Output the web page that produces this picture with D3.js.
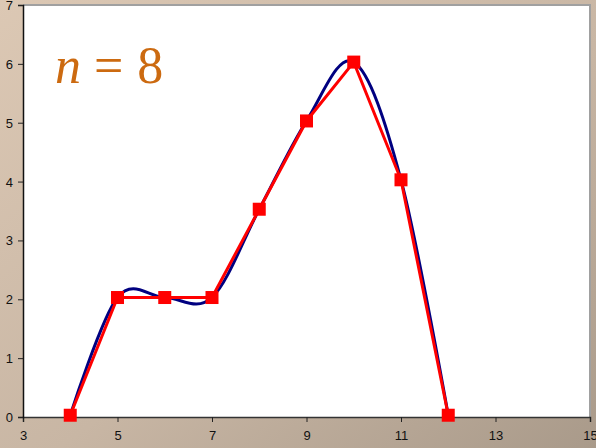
<!DOCTYPE html>
<html>
<head>
<meta charset="utf-8">
<script src="https://cdn.jsdelivr.net/npm/d3@7"></script>
<style>
body{margin:0;padding:0;overflow:hidden}
.tick text{font-family:"Liberation Sans",Arial,sans-serif;font-size:13px;fill:#111}
</style>
</head>
<body>
<svg id="chart" width="596" height="448"></svg>
<script>
// data
let xValues = [4, 5, 6, 7, 8, 9, 10, 11, 12]
let yValues = [0.03, 2.03, 2.03, 2.03, 3.53, 5.03, 6.03, 4.03, 0.03]
let xTicks = [3, 5, 7, 9, 11, 13, 15]
let yTicks = [0, 1, 2, 3, 4, 5, 6, 7]

let points = xValues.map(function (d, i) { return {x: d, y: yValues[i]} })

let svg = d3.select("#chart")

// background gradient
let defs = svg.append("defs")
let grad = defs.append("linearGradient").attr("id", "bg")
    .attr("x1", "0%").attr("y1", "0%").attr("x2", "100%").attr("y2", "100%")
grad.append("stop").attr("offset", "0%").attr("stop-color", "#dcc8b4")
grad.append("stop").attr("offset", "55%").attr("stop-color", "#c8b6a4")
grad.append("stop").attr("offset", "100%").attr("stop-color", "#a99a8a")
svg.append("rect").attr("width", 596).attr("height", 448).attr("fill", "url(#bg)")

let xScale = d3.scaleLinear().domain([3, 15]).range([23, 590])
let yScale = d3.scaleLinear().domain([0, 7]).range([417, 5])

// plot area
svg.append("rect")
    .attr("x", xScale(3)).attr("y", yScale(7))
    .attr("width", xScale(15) - xScale(3)).attr("height", yScale(0) - yScale(7))
    .attr("fill", "#fff")
// grey border top/right
svg.append("path")
    .attr("d", `M${xScale(3)},${yScale(7)}H${xScale(15)}V${yScale(0)}`)
    .attr("fill", "none").attr("stroke", "#a0a0a0").attr("stroke-width", 2)

// axes
let x_axis = d3.axisBottom(xScale).tickValues(xTicks).tickSize(5).tickPadding(9).tickFormat(d3.format("d"))
let y_axis = d3.axisLeft(yScale).tickValues(yTicks).tickSize(5).tickPadding(5).tickFormat(d3.format("d"))

let gx = svg.append("g").attr("transform", `translate(0,${yScale(0)})`).call(x_axis)
let gy = svg.append("g").attr("transform", `translate(${xScale(3)},0)`).call(y_axis)
gx.select(".domain").attr("stroke", "#333").attr("stroke-width", 1.5)
gy.select(".domain").attr("stroke", "#111").attr("stroke-width", 1.5)
gx.selectAll(".tick line").attr("stroke", "#222")
gy.selectAll(".tick line").attr("stroke", "#222")
gy.selectAll(".tick text").attr("dy", "0.35em")

// smooth curve (Catmull-Rom through the same points)
let smooth = d3.line()
    .x(function (d) { return xScale(d.x) })
    .y(function (d) { return yScale(d.y) })
    .curve(d3.curveCardinal.tension(0))
svg.append("path").datum(points)
    .attr("d", smooth)
    .attr("fill", "none").attr("stroke", "#000080").attr("stroke-width", 3)

// polyline
let straight = d3.line()
    .x(function (d) { return xScale(d.x) })
    .y(function (d) { return yScale(d.y) })
svg.append("path").datum(points)
    .attr("d", straight)
    .attr("fill", "none").attr("stroke", "#ff0000").attr("stroke-width", 3)

// markers
svg.selectAll(".markers").data(points).enter()
    .append("rect").attr("class", "markers")
    .attr("x", function (d) { return xScale(d.x) - 6.5 })
    .attr("y", function (d) { return yScale(d.y) - 6.5 })
    .attr("width", 13).attr("height", 13)
    .attr("fill", "#ff0000")

// label
let label = svg.append("text")
    .attr("x", 55).attr("y", 83)
    .attr("font-family", "'Liberation Serif','Times New Roman',serif")
    .attr("font-size", 52)
    .attr("fill", "#cc6a10")
label.append("tspan").attr("font-style", "italic").text("n")
label.append("tspan").attr("dx", 13).text("=")
label.append("tspan").attr("dx", 14).text("8")
</script>
</body>
</html>
